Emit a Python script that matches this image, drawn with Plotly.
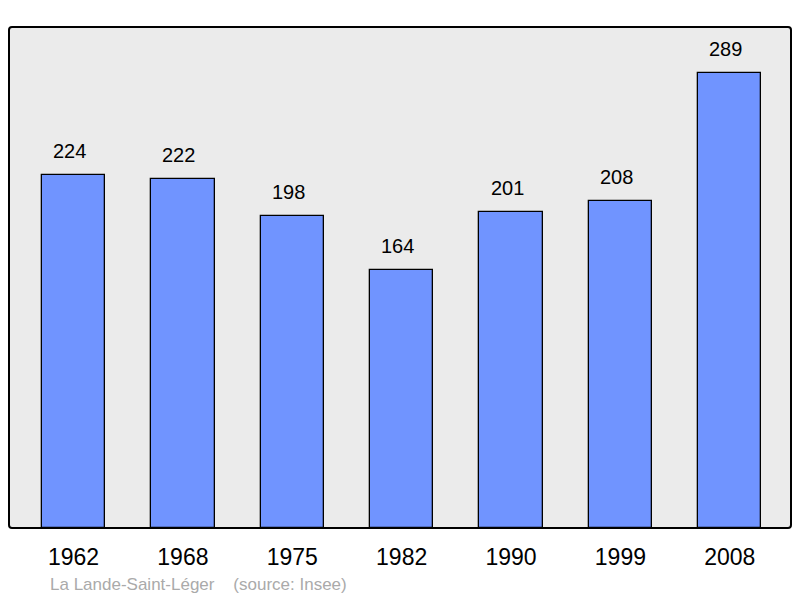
import plotly.graph_objects as go

years = ["1962", "1968", "1975", "1982", "1990", "1999", "2008"]
population = [224, 222, 198, 164, 201, 208, 289]
title_text = "La Lande-Saint-Léger    (source: Insee)"

W, H = 800, 598
L, R, T, B = 9, 791, 27, 528
pw, ph = R - L, B - T

fig = go.Figure()
fig.add_trace(go.Bar(
    x=list(range(len(years))),
    y=population,
    width=0.58,
    marker=dict(color="#7094FF", line=dict(color="#000000", width=1.3)),
    hoverinfo="skip",
))

for i, v in enumerate(population):
    fig.add_annotation(
        x=i, y=v, text=str(v), showarrow=False, xref="x", yref="y",
        yanchor="bottom", yshift=11, xshift=-4,
        font=dict(family="Liberation Sans, Arial, sans-serif", size=20, color="#000000"),
    )

fig.add_annotation(
    x=(48 - L) / pw, y=(B - 584) / ph, xref="paper", yref="paper",
    xanchor="left", yanchor="middle",
    text=title_text, showarrow=False,
    font=dict(family="Liberation Sans, Arial, sans-serif", size=17, color="#AAAAAA"),
)

# rounded border of plot area
rx, ry = 3 / pw, 3 / ph
path = (f"M {rx},0 L {1-rx},0 Q 1,0 1,{ry} "
        f"L 1,{1-ry} Q 1,1 {1-rx},1 "
        f"L {rx},1 Q 0,1 0,{1-ry} "
        f"L 0,{ry} Q 0,0 {rx},0 Z")
fig.add_shape(type="path", path=path, xref="x domain", yref="y domain",
              line=dict(color="#000000", width=2), fillcolor="rgba(0,0,0,0)", layer="above")

fig.update_layout(
    width=W, height=H, autosize=False,
    margin=dict(l=L, r=W - R, t=T, b=H - B, pad=0),
    paper_bgcolor="#FFFFFF",
    plot_bgcolor="#EBEBEB",
    showlegend=False,
    bargap=0,
    xaxis=dict(
        range=[-0.59, 6.56],
        tickmode="array", tickvals=list(range(len(years))), ticktext=years,
        showgrid=False, zeroline=False, showline=False,
        ticks="outside", ticklen=8, tickcolor="rgba(0,0,0,0)",
        tickfont=dict(family="Liberation Sans, Arial, sans-serif", size=23, color="#000000"),
        fixedrange=True,
    ),
    yaxis=dict(
        range=[0, 318.3], showgrid=False, zeroline=False, showline=False,
        showticklabels=False, ticks="", fixedrange=True,
    ),
)

fig.write_html(
    "out.html",
    config={"displayModeBar": False},
    post_script="document.body.style.margin='0';document.body.style.overflow='hidden';",
)
